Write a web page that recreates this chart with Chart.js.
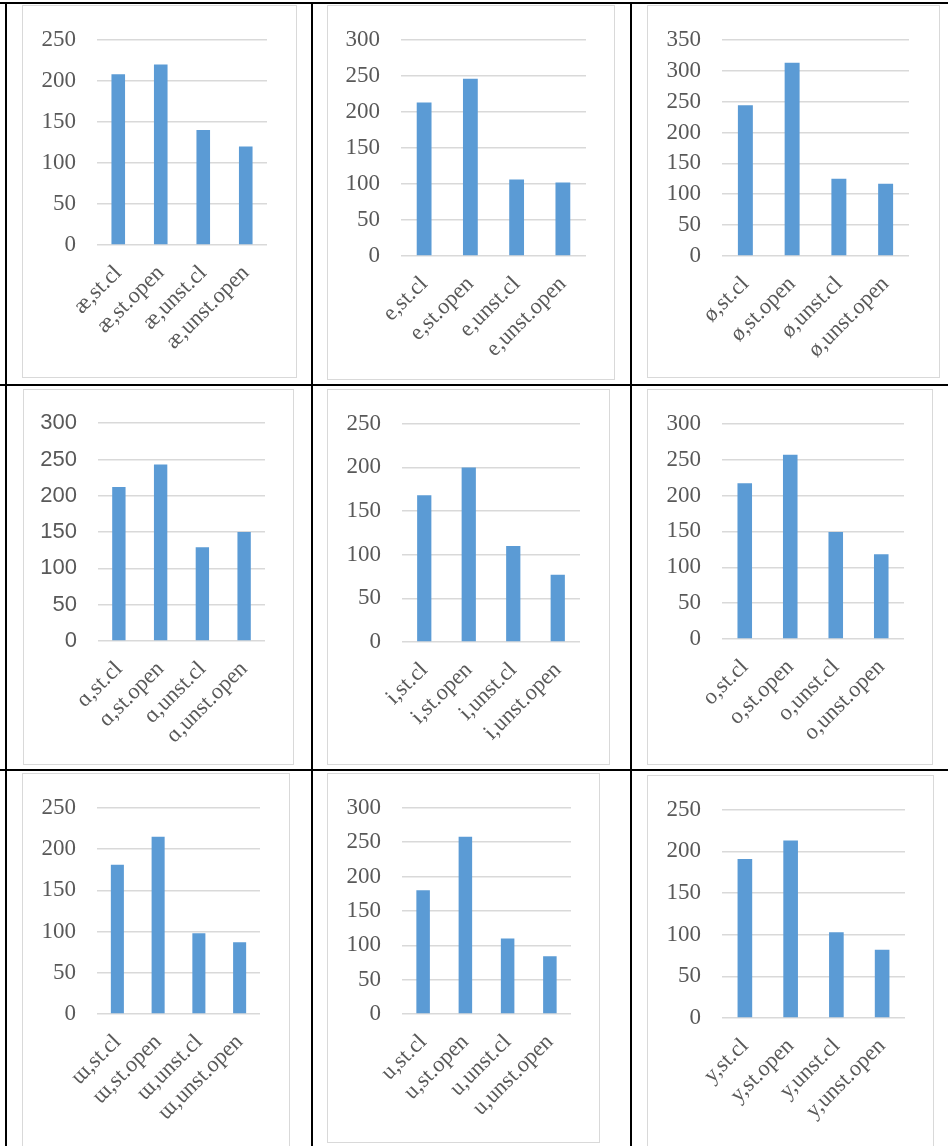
<!DOCTYPE html>
<html>
<head>
<meta charset="utf-8">
<script src="https://cdn.jsdelivr.net/npm/chart.js@4.4.1/dist/chart.umd.min.js"></script>
<style>
  html, body { margin: 0; padding: 0; background: #ffffff; }
  body { width: 948px; height: 1146px; position: relative; overflow: hidden; }
  .rule { position: absolute; background: #000000; }
  .frame { position: absolute; border: 1px solid #d9d9d9; box-sizing: border-box; pointer-events: none; }
  canvas { position: absolute; }
</style>
</head>
<body>
<script>
// Vowel durations by stress and syllable type, one small chart per vowel
const categorySuffixes = ['st.cl', 'st.open', 'unst.cl', 'unst.open'];

const vowelAE = 'æ';
const valuesAE = [208, 220, 140, 120];
const vowelE = 'e';
const valuesE = [213, 246, 106, 102];
const vowelOE = 'ø';
const valuesOE = [244, 313, 125, 117];
const vowelA = 'ɑ';
const valuesA = [212, 243, 129, 150];
const vowelI = 'i';
const valuesI = [168, 200, 110, 77];
const vowelO = 'o';
const valuesO = [217, 257, 149, 118];
const vowelW = 'ɯ';
const valuesW = [181, 215, 98, 87];
const vowelU = 'u';
const valuesU = [180, 258, 110, 84];
const vowelY = 'y';
const valuesY = [191, 213, 103, 82];

// y-axis ceilings (ticks every 50)
const axisMaxes = [250, 300, 350, 300, 250, 300, 250, 300, 250];
const tickStep = 50;

const vowels = [vowelAE, vowelE, vowelOE, vowelA, vowelI, vowelO, vowelW, vowelU, vowelY];
const series = [valuesAE, valuesE, valuesOE, valuesA, valuesI, valuesO, valuesW, valuesU, valuesY];

// frame box [left, top, right, bottom] and plot box [left, top, right, bottom] per chart
const frames = [
  [22, 5, 297, 378],   [327, 5, 615, 380],   [647, 5, 940, 378],
  [23, 389, 294, 765], [327, 389, 610, 765], [647, 389, 933, 765],
  [22, 773, 290, 1160],[327, 773, 600, 1143],[647, 775, 934, 1160]
];
const plots = [
  [97, 34, 267, 245],  [401, 34, 586, 256],  [722, 34, 909, 256],
  [98, 418, 265, 641], [402, 417, 580, 642], [722, 418, 904, 639],
  [97, 803, 260, 1014],[402, 803, 571, 1014],[722, 804, 905, 1018]
];

// table rules: [left, top, width, height]
const rules = [
  [0, 2, 948, 2],
  [0, 384, 948, 2],
  [0, 769, 948, 2],
  [5, 2, 2, 1146],
  [311, 2, 2, 1146],
  [630, 2, 2, 1146]
];
rules.forEach(r => {
  const d = document.createElement('div');
  d.className = 'rule';
  d.style.left = r[0] + 'px'; d.style.top = r[1] + 'px';
  d.style.width = r[2] + 'px'; d.style.height = r[3] + 'px';
  document.body.appendChild(d);
});

const serif = "'Liberation Serif', 'Times New Roman', 'DejaVu Serif', serif";
const sans = "'Liberation Sans', Arial, 'DejaVu Sans', sans-serif";
const textGray = '#595959';
const gridGray = '#d9d9d9';
const barBlue = '#5b9bd5';

vowels.forEach((v, i) => {
  const f = frames[i], p = plots[i];
  const w = f[2] - f[0], h = f[3] - f[1];

  const canvas = document.createElement('canvas');
  canvas.width = w; canvas.height = h;
  canvas.style.left = f[0] + 'px'; canvas.style.top = f[1] + 'px';
  canvas.style.width = w + 'px'; canvas.style.height = h + 'px';
  document.body.appendChild(canvas);

  const box = document.createElement('div');
  box.className = 'frame';
  box.style.left = f[0] + 'px'; box.style.top = f[1] + 'px';
  box.style.width = w + 'px'; box.style.height = h + 'px';
  document.body.appendChild(box);

  const yFont = (i === 3) ? sans : serif;
  const yFontSize = (i === 3) ? 22 : 23;

  new Chart(canvas, {
    type: 'bar',
    data: {
      labels: categorySuffixes.map(s => v + ',' + s),
      datasets: [{
        data: series[i],
        backgroundColor: barBlue,
        borderWidth: 0,
        barPercentage: 0.32,
        categoryPercentage: 1
      }]
    },
    options: {
      responsive: false,
      animation: false,
      devicePixelRatio: 1,
      layout: {
        padding: { top: p[1] - f[1], right: f[2] - p[2], left: 0, bottom: 0 }
      },
      plugins: { legend: { display: false }, tooltip: { enabled: false } },
      scales: {
        x: {
          grid: { display: false, drawTicks: false },
          border: { display: false },
          ticks: {
            color: textGray,
            font: { family: serif, size: 22.5 },
            maxRotation: 45, minRotation: 45,
            autoSkip: false,
            padding: 15
          },
          afterFit: scale => { scale.height = f[3] - p[3]; }
        },
        y: {
          min: 0, max: axisMaxes[i],
          grid: { color: gridGray, lineWidth: 1.5, drawTicks: false },
          border: { display: false },
          ticks: {
            stepSize: tickStep,
            color: textGray,
            font: { family: yFont, size: yFontSize },
            padding: 21
          },
          afterFit: scale => { scale.width = p[0] - f[0]; }
        }
      }
    }
  });
});
</script>
</body>
</html>
